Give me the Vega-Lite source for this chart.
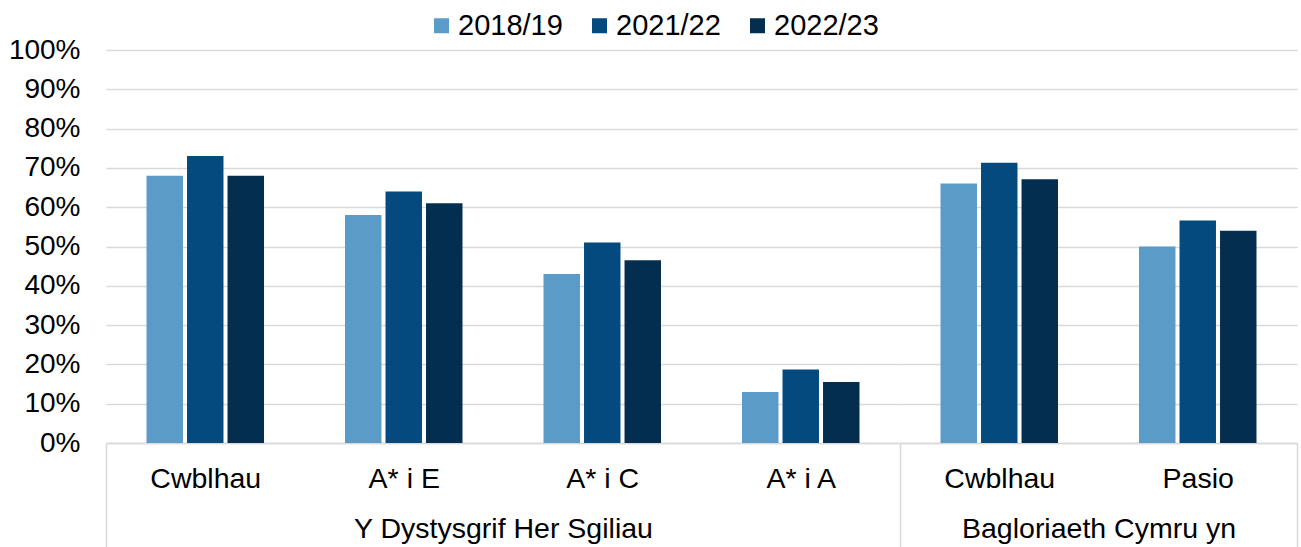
{
  "$schema": "https://vega.github.io/schema/vega-lite/v6.json",
  "padding": {"left": 8, "right": 4, "top": 11, "bottom": 0},
  "spacing": 0,
  "bounds": "flush",
  "datasets": {
    "sgiliau": [
      {"cat": "k1", "year": "2018/19", "value": 0.68},
      {"cat": "k1", "year": "2021/22", "value": 0.73},
      {"cat": "k1", "year": "2022/23", "value": 0.68},
      {"cat": "k2", "year": "2018/19", "value": 0.58},
      {"cat": "k2", "year": "2021/22", "value": 0.64},
      {"cat": "k2", "year": "2022/23", "value": 0.61},
      {"cat": "k3", "year": "2018/19", "value": 0.43},
      {"cat": "k3", "year": "2021/22", "value": 0.51},
      {"cat": "k3", "year": "2022/23", "value": 0.465},
      {"cat": "k4", "year": "2018/19", "value": 0.13},
      {"cat": "k4", "year": "2021/22", "value": 0.187},
      {"cat": "k4", "year": "2022/23", "value": 0.155}
    ],
    "bac": [
      {"cat": "k5", "year": "2018/19", "value": 0.66},
      {"cat": "k5", "year": "2021/22", "value": 0.713},
      {"cat": "k5", "year": "2022/23", "value": 0.671},
      {"cat": "k6", "year": "2018/19", "value": 0.50},
      {"cat": "k6", "year": "2021/22", "value": 0.566},
      {"cat": "k6", "year": "2022/23", "value": 0.54}
    ]
  },
  "hconcat": [
    {
      "width": 794,
      "height": 393,
      "data": {"name": "sgiliau"},
      "mark": {"type": "bar"},
      "encoding": {
        "x": {
          "field": "cat", "type": "nominal", "sort": null,
          "scale": {"paddingInner": 0, "paddingOuter": 0},
          "axis": {
            "orient": "bottom",
            "title": "Y Dystysgrif Her Sgiliau",
            "titleFontSize": 28.5,
            "titleFontWeight": "normal",
            "titleColor": "#000000",
            "titlePadding": -34,
            "labelAngle": 0,
            "labelExpr": "datum.value == 'k1' ? 'Cwblhau' : datum.value == 'k2' ? 'A* i E' : datum.value == 'k3' ? 'A* i C' : datum.value == 'k4' ? 'A* i A' : ''",
            "labelFontSize": 28.5,
            "labelColor": "#000000",
            "labelLimit": 400,
            "labelPadding": -83.5,
            "tickBand": "extent",
            "tickSize": 105,
            "tickColor": "#D9D9D9",
            "tickWidth": 1.5,
            "tickOpacity": {"condition": {"test": "datum.index < 0 || datum.value == 'k4'", "value": 1}, "value": 0},
            "domainColor": "#D9D9D9",
            "domainWidth": 1.5
          }
        },
        "xOffset": {"field": "year", "type": "nominal", "scale": {"paddingInner": 0.1, "paddingOuter": 1.03}},
        "y": {
          "field": "value", "type": "quantitative",
          "scale": {"domain": [0, 1]},
          "axis": {
            "title": null,
            "format": "%",
            "values": [0, 0.1, 0.2, 0.3, 0.4, 0.5, 0.6, 0.7, 0.8, 0.9, 1],
            "domain": false,
            "ticks": false,
            "labelPadding": 26,
            "labelFontSize": 28,
            "labelColor": "#000000",
            "gridColor": "#D9D9D9",
            "gridWidth": 1.5
          }
        },
        "color": {
          "field": "year", "type": "nominal",
          "scale": {"domain": ["2018/19", "2021/22", "2022/23"], "range": ["#5B9BC8", "#044A7E", "#032E4F"]},
          "legend": {
            "orient": "top",
            "direction": "horizontal",
            "title": null,
            "symbolType": "square",
            "symbolSize": 225,
            "symbolStrokeWidth": 0,
            "labelFontSize": 29,
            "labelColor": "#000000",
            "labelOffset": 2,
            "columnPadding": 22,
            "offset": -5
          }
        }
      }
    },
    {
      "width": 397,
      "height": 393,
      "data": {"name": "bac"},
      "mark": {"type": "bar"},
      "encoding": {
        "x": {
          "field": "cat", "type": "nominal", "sort": null,
          "scale": {"paddingInner": 0, "paddingOuter": 0},
          "axis": {
            "orient": "bottom",
            "title": "Bagloriaeth Cymru yn",
            "titleFontSize": 28.5,
            "titleFontWeight": "normal",
            "titleColor": "#000000",
            "titlePadding": -34,
            "labelAngle": 0,
            "labelExpr": "datum.value == 'k5' ? 'Cwblhau' : datum.value == 'k6' ? 'Pasio' : ''",
            "labelFontSize": 28.5,
            "labelColor": "#000000",
            "labelLimit": 400,
            "labelPadding": -83.5,
            "tickBand": "extent",
            "tickSize": 105,
            "tickColor": "#D9D9D9",
            "tickWidth": 1.5,
            "tickOpacity": {"condition": {"test": "datum.value == 'k6'", "value": 1}, "value": 0},
            "domainColor": "#D9D9D9",
            "domainWidth": 1.5
          }
        },
        "xOffset": {"field": "year", "type": "nominal", "scale": {"paddingInner": 0.1, "paddingOuter": 1.03}},
        "y": {
          "field": "value", "type": "quantitative",
          "scale": {"domain": [0, 1]},
          "axis": {
            "title": null,
            "values": [0, 0.1, 0.2, 0.3, 0.4, 0.5, 0.6, 0.7, 0.8, 0.9, 1],
            "labels": false,
            "domain": false,
            "ticks": false,
            "gridColor": "#D9D9D9",
            "gridWidth": 1.5
          }
        },
        "color": {
          "field": "year", "type": "nominal",
          "scale": {"domain": ["2018/19", "2021/22", "2022/23"], "range": ["#5B9BC8", "#044A7E", "#032E4F"]}
        }
      }
    }
  ],
  "resolve": {"scale": {"x": "independent", "color": "shared"}},
  "config": {
    "font": "Liberation Sans",
    "view": {"stroke": null},
    "legend": {"layout": {"top": {"anchor": "middle"}}}
  }
}
